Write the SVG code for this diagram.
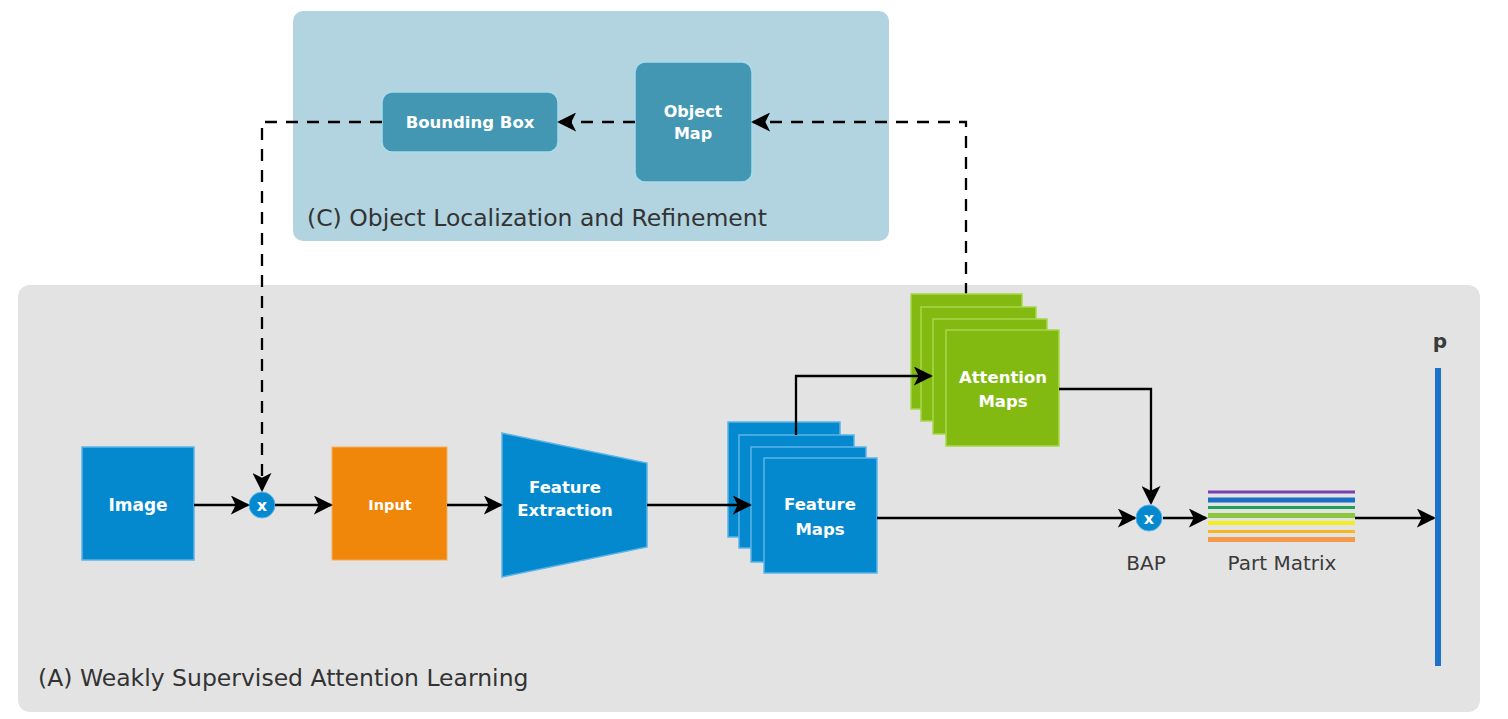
<svg xmlns="http://www.w3.org/2000/svg" width="1508" height="719" viewBox="0 0 1508 719">
<style>
.lbl{font-family:"DejaVu Sans","Verdana",sans-serif;font-weight:bold;fill:#ffffff;text-anchor:middle}
.title{font-family:"DejaVu Sans","Verdana",sans-serif;fill:#333333;font-size:23.5px}
.cap{font-family:"DejaVu Sans","Verdana",sans-serif;fill:#3a3a3a;font-size:20px;text-anchor:middle}
.line{fill:none;stroke:#000;stroke-width:2.3}
.dash{fill:none;stroke:#000;stroke-width:2.3;stroke-dasharray:12 9}
.blue{fill:#0489cf;stroke:#5cb4e8;stroke-width:1.5}
.green{fill:#82ba12;stroke:#a8d84a;stroke-width:1.5}
.teal{fill:#4397b2;stroke:#a8dcec;stroke-width:1.5}
</style>
<defs>
<marker id="ahb" viewBox="0 0 10 10" refX="9" refY="5" markerWidth="19" markerHeight="19" markerUnits="userSpaceOnUse" orient="auto">
<path d="M0,0 L10,5 L0,10 L2.5,5 Z" fill="#000"/>
</marker>
</defs>

<g id="panel-A">
<rect x="18" y="285" width="1462" height="427" rx="12" fill="#e3e3e3"/>
<text class="title" x="38" y="686">(A) Weakly Supervised Attention Learning</text>
</g>
<g id="panel-C">
<rect x="293" y="11" width="596" height="230" rx="10" fill="#b1d4e0"/>
<text class="title" x="307" y="226">(C) Object Localization and Refinement</text>
</g>

<g id="bounding-box">
<rect class="teal" x="382" y="92" width="176" height="60" rx="10"/>
<text class="lbl" x="470" y="128" font-size="16.5">Bounding Box</text>
</g>
<g id="object-map">
<rect class="teal" x="635" y="62" width="117" height="120" rx="10"/>
<text class="lbl" x="693" y="117" font-size="16">Object</text>
<text class="lbl" x="693" y="139" font-size="16">Map</text>
</g>

<g id="image">
<rect class="blue" x="82" y="447" width="112" height="113"/>
<text class="lbl" x="138" y="511" font-size="17">Image</text>
</g>
<g id="mult1">
<circle cx="262" cy="505" r="13" fill="#0489cf" stroke="#5cb4e8" stroke-width="1"/>
<text class="lbl" x="262" y="511" font-size="16">x</text>
</g>
<g id="input">
<rect x="332" y="447" width="115" height="113" fill="#f0860a" stroke="#f5b060" stroke-width="1"/>
<text class="lbl" x="390" y="510" font-size="14.5">Input</text>
</g>
<g id="feature-extraction">
<polygon class="blue" points="502,433 647,463 647,547 502,577"/>
<text class="lbl" x="565" y="493" font-size="16.5">Feature</text>
<text class="lbl" x="565" y="516" font-size="16.5">Extraction</text>
</g>

<g id="connectors">
<path class="dash" d="M382,122 H262 V490" marker-end="url(#ahb)"/>
<path class="dash" d="M966,295 V122 H753" marker-end="url(#ahb)"/>
<path class="dash" d="M635,122 H559" marker-end="url(#ahb)"/>
<path class="line" d="M194,505 H248" marker-end="url(#ahb)"/>
<path class="line" d="M275,505 H331" marker-end="url(#ahb)"/>
<path class="line" d="M447,505 H501" marker-end="url(#ahb)"/>
</g>

<g id="feature-maps">
<rect class="blue" x="728" y="422" width="112" height="115"/>
<rect class="blue" x="739" y="435" width="115" height="113"/>
<rect class="blue" x="751" y="447" width="115" height="115"/>
<path class="line" d="M647,505 H750" marker-end="url(#ahb)"/>
<rect class="blue" x="764" y="458" width="113" height="115"/>
<text class="lbl" x="820" y="510" font-size="16.5">Feature</text>
<text class="lbl" x="820" y="535" font-size="16.5">Maps</text>
</g>

<g id="attention-maps">
<rect class="green" x="911" y="294" width="111" height="115"/>
<rect class="green" x="921" y="307" width="115" height="114"/>
<rect class="green" x="933" y="319" width="114" height="115"/>
<rect class="green" x="946" y="330" width="113" height="116"/>
<text class="lbl" x="1003" y="383" font-size="16.5">Attention</text>
<text class="lbl" x="1003" y="407" font-size="16.5">Maps</text>
</g>

<g id="connectors-2">
<path class="line" d="M796,435 V376 H931" marker-end="url(#ahb)"/>
<path class="line" d="M1059,389 H1151 V503" marker-end="url(#ahb)"/>
<path class="line" d="M877,518 H1135" marker-end="url(#ahb)"/>
<path class="line" d="M1163,518 H1206" marker-end="url(#ahb)"/>
<path class="line" d="M1355,518 H1434" marker-end="url(#ahb)"/>
</g>

<g id="bap">
<circle cx="1149" cy="518" r="13" fill="#0489cf" stroke="#5cb4e8" stroke-width="1"/>
<text class="lbl" x="1149" y="524" font-size="16">x</text>
<text class="cap" x="1146" y="570">BAP</text>
</g>

<g id="part-matrix">
<rect x="1208" y="490.5" width="147" height="3" fill="#7a3fb0"/>
<rect x="1208" y="497.5" width="147" height="5" fill="#1a6fc4"/>
<rect x="1208" y="506" width="147" height="3" fill="#22a05a"/>
<rect x="1208" y="513" width="147" height="5" fill="#8cc63f"/>
<rect x="1208" y="521" width="147" height="4" fill="#f5ee1e"/>
<rect x="1208" y="530" width="147" height="3" fill="#f5b820"/>
<rect x="1208" y="537" width="147" height="5" fill="#f59a4a"/>
<text class="cap" x="1282" y="570">Part Matrix</text>
</g>

<g id="p">
<rect x="1435" y="368" width="6" height="298" fill="#1a73c8"/>
<text class="cap" x="1440" y="348" font-size="17" font-weight="bold">p</text>
</g>
</svg>
